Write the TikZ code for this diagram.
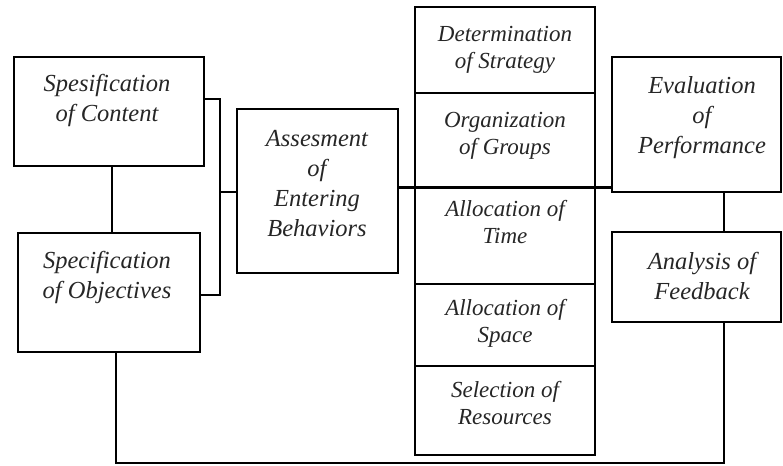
\documentclass[tikz,border=0pt]{standalone}
\usepackage{fontspec}
\setmainfont{Liberation Serif}
\begin{document}
\begin{tikzpicture}[x=1pt,y=-1pt,
  box/.style={draw=black, line width=2.8pt, rectangle, inner sep=0pt, outer sep=0pt},
  txt/.style={align=center, inner sep=0pt, font=\itshape\fontsize{24.5}{30}\selectfont, text=black!85},
  ctxt/.style={align=center, inner sep=0pt, font=\itshape\fontsize{23}{27}\selectfont, text=black!85},
  conn/.style={line width=2.5pt, line cap=rect}]
\useasboundingbox (0,0) rectangle (783,465);
% boxes
\node[box, minimum width=190pt, minimum height=109pt] (C) at (109,111.5) {};
\node[box, minimum width=182pt, minimum height=119pt] (O) at (109,292.5) {};
\node[box, minimum width=161pt, minimum height=164pt] (A) at (317.5,191) {};
\node[box, minimum width=180pt, minimum height=86pt] (D1) at (505,50) {};
\node[box, minimum width=180pt, minimum height=94pt] (D2) at (505,140) {};
\node[box, minimum width=180pt, minimum height=97pt] (D3) at (505,235.5) {};
\node[box, minimum width=180pt, minimum height=82pt] (D4) at (505,325) {};
\node[box, minimum width=180pt, minimum height=89pt] (D5) at (505,410.5) {};
\node[box, minimum width=169pt, minimum height=135pt] (E) at (696.5,124.5) {};
\node[box, minimum width=169pt, minimum height=90pt] (F) at (696.5,277) {};
% texts
\node[txt] (tC) at (107,100) {Spesification\\of Content};
\node[txt] (tO) at (107,277) {Specification\\of Objectives};
\node[txt] (tA) at (317,184) {Assesment\\of\\Entering\\Behaviors};
\node[ctxt] (t1) at (505,50) {Determination\\of Strategy};
\node[ctxt] (t2) at (505,136) {Organization\\of Groups};
\node[ctxt] (t3) at (505,222) {Allocation of\\Time};
\node[ctxt] (t4) at (505,323) {Allocation of\\Space};
\node[ctxt] (t5) at (505,403) {Selection of\\Resources};
\node[txt] (tE) at (702,118) {Evaluation\\of\\Performance};
\node[txt] (tF) at (702,276) {Analysis of\\Feedback};
% connectors
\coordinate (cv) at (112,0);
\draw[conn] (C.south -| cv) -- (O.north -| cv);
\coordinate (b1) at (220,99);
\coordinate (b2) at (220,295);
\coordinate (bm) at (220,192);
\draw[conn] (C.east |- b1) -- (b1) -- (b2) -- (O.east |- b2);
\draw[conn] (bm) -- (A.west |- bm);
\coordinate (m) at (0,187.5);
\draw[conn] (A.east |- m) -- (E.west |- m);
\coordinate (ev) at (724,0);
\draw[conn] (E.south -| ev) -- (F.north -| ev);
\coordinate (r) at (724,463);
\coordinate (l) at (116,463);
\draw[conn] (F.south -| r) -- (r) -- (l) -- (O.south -| l);
\end{tikzpicture}
\end{document}
